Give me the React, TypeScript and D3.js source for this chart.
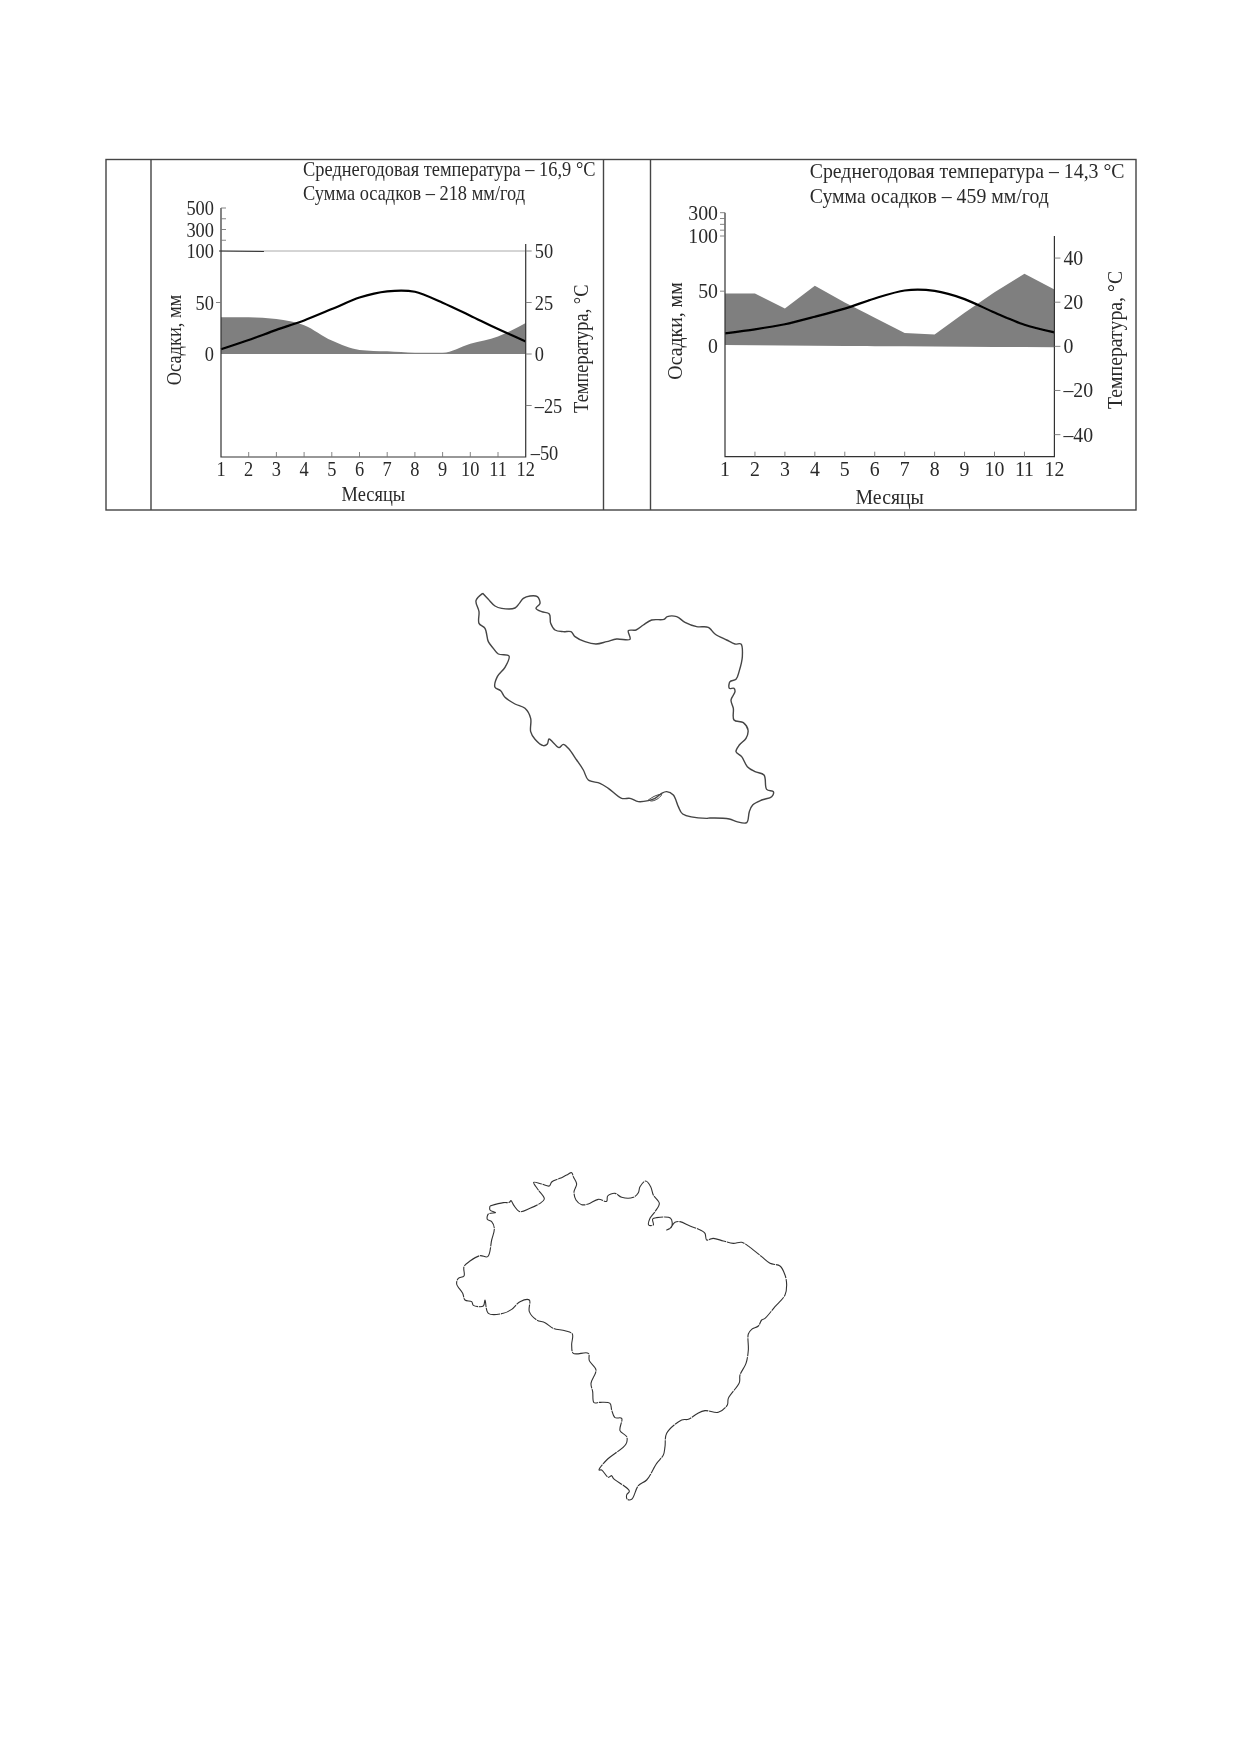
import React, { useEffect, useRef } from 'react';
import * as d3 from 'd3';

const months = [1, 2, 3, 4, 5, 6, 7, 8, 9, 10, 11, 12];

// left climate chart
const precipA = [35.6, 35.6, 34, 28, 13, 4, 2.6, 1.3, 1.3, 10, 17, 30];
const tempA = [2.3, 6.8, 11.7, 16.3, 21.8, 27.4, 30.4, 30.2, 24.9, 18.6, 12.1, 6.1];
const baseA = [0, 0, 0, 0, 0, 0, 0, 0, 0, 0, 0, 0];
const precipLabelsA = [0, 50, 100, 300, 500];
const precipMinorA = [200, 300, 400, 500];
const tempTicksA = [-50, -25, 0, 25, 50];

// right climate chart
const precipB = [47.8, 47.8, 34.3, 55, 39.8, 26, 12, 10.8, 30.5, 49, 65.7, 51.5];
const tempB = [5.9, 7.7, 10, 13.4, 17.1, 21.7, 25.3, 25.1, 21.4, 15.3, 9.8, 6.3];
const baseB = [1.2, 1, 0.8, 0.6, 0.4, 0.2, 0, -0.2, -0.4, -0.5, -0.7, -0.9];
const precipLabelsB = [0, 50, 100, 300];
const precipMinorB = [100, 150, 200, 250, 300];
const tempTicksB = [-40, -20, 0, 20, 40];

const iranOutline = [[68,40],[85,58],[105,78],[125,85],[165,84],[178,70],[190,55],[210,48],[232,50],[240,70],[228,85],[245,95],[268,102],[272,130],[285,150],[310,155],[333,155],[345,170],[375,185],[408,192],[440,185],[470,177],[510,178],[505,152],[528,150],[550,135],[575,120],[612,118],[622,110],[650,110],[675,127],[710,140],[745,142],[765,162],[800,180],[825,192],[843,192],[847,230],[838,272],[828,298],[810,305],[808,325],[822,325],[825,335],[813,360],[820,385],[822,420],[850,428],[864,450],[858,475],[838,495],[828,515],[845,530],[862,560],[885,575],[912,585],[920,628],[940,635],[935,650],[905,660],[878,675],[868,695],[860,728],[830,725],[808,717],[750,714],[740,715],[668,702],[655,680],[640,645],[620,635],[605,640],[585,655],[565,662],[535,665],[510,655],[485,655],[445,625],[420,610],[385,600],[370,570],[350,540],[325,505],[310,493],[297,503],[280,488],[267,477],[262,492],[250,497],[225,478],[212,455],[212,415],[195,385],[165,372],[135,352],[122,332],[105,322],[112,290],[135,262],[147,228],[115,222],[100,205],[85,185],[75,145],[57,130],[57,95],[48,62],[68,40]];
const iranIsland = [[565,660],[585,648],[605,643],[595,655],[575,663],[565,660]];
const brazilNorth = [[150,138],[190,128],[208,127],[213,122],[222,137],[240,155],[270,145],[300,130],[313,117],[295,90],[281,67],[305,72],[328,78],[335,66],[360,55],[380,45],[395,38],[400,50],[410,72],[402,95],[408,120],[425,134],[445,132],[475,118],[500,124],[503,108],[525,100],[545,112],[580,112],[595,98],[600,80],[617,63],[632,80],[640,105],[658,130],[645,155],[630,175],[626,195],[640,195],[638,177],[650,173],[692,175],[695,200],[680,210],[690,205],[705,187],[720,185],[750,198],[785,212],[795,220],[800,240],[820,235],[850,243],[880,250],[905,247],[930,262],[965,290],[990,310],[1020,318],[1035,345],[1040,375],[1035,405],[1005,440],[975,475]];
const brazilSouth = [[785,0],[775,18],[755,28],[745,42],[745,90],[738,130],[720,165],[718,188],[685,235],[682,255],[655,277],[615,272],[590,282],[565,298],[545,300],[500,340],[495,380],[490,405],[470,430],[440,480],[415,497],[395,538],[382,538],[380,525],[388,513],[340,475],[335,467],[325,472],[305,450],[297,450],[320,420],[378,372],[380,350],[360,332],[365,295],[345,293],[335,270],[330,250],[300,247],[282,248],[278,215],[273,190],[288,150],[268,122],[265,100],[220,100],[215,75],[217,42],[195,32],[160,25],[135,8],[110,0]];
const brazilWest = [[268,455],[268,420],[240,425],[215,448],[190,460],[145,460],[135,420],[130,438],[100,436],[95,425],[75,420],[68,400],[50,372],[55,355],[72,348],[72,320],[90,303],[120,287],[143,290],[155,240],[163,205],[155,185],[142,178],[145,162],[167,158],[150,150],[150,138]];

const SERIF = '"Liberation Serif", serif';
const INK = '#2a2a2a';

const drawClimate = (root, c) => {
  const g = root.append('g');
  const x = d3.scaleLinear().domain([1, 12]).range([c.left, c.right]);
  const yT = d3.scaleLinear().domain([-50, 50]).range([c.bottom, c.top50]);
  const yP = d3.scaleLinear().domain([0, 100, c.pMax]).range([yT(0), yT(50), c.top]);

  const area = d3.area()
    .x((d, i) => x(months[i]))
    .y0((d, i) => yP(c.base[i]))
    .y1(d => yP(d))
    .curve(c.areaCurve);
  g.append('path').attr('d', area(c.precip)).attr('fill', '#7f7f7f');

  if (c.rule) {
    g.append('line').attr('x1', x(1)).attr('x2', x(12)).attr('y1', yP(100)).attr('y2', yP(100))
      .attr('stroke', '#aaa').attr('stroke-width', 1);
    g.append('line').attr('x1', x(1) - 2).attr('x2', x(2.55)).attr('y1', yP(100)).attr('y2', yP(100) + 0.5)
      .attr('stroke', '#333').attr('stroke-width', 1.1);
  }

  const line = d3.line().x((d, i) => x(months[i])).y(d => yT(d)).curve(d3.curveCardinal.tension(0.2));
  g.append('path').attr('d', line(c.temp)).attr('fill', 'none').attr('stroke', '#000').attr('stroke-width', 2.2);

  const axes = g.append('g').attr('stroke', '#333').attr('stroke-width', 1.2).attr('fill', 'none');
  axes.append('path').attr('d', `M${c.left},${c.top}V${c.bottom}H${c.right}V${c.top50 - c.overshoot}`);
  const ticks = g.append('g').attr('stroke', '#777').attr('stroke-width', 0.9);
  months.slice(1, 11).forEach(m => {
    ticks.append('line').attr('x1', x(m)).attr('x2', x(m)).attr('y1', c.bottom).attr('y2', c.bottom - 5);
  });
  c.tempTicks.filter(t => t > -50).forEach(t => {
    ticks.append('line').attr('x1', c.right).attr('x2', c.right + 6).attr('y1', yT(t)).attr('y2', yT(t));
  });
  c.precipMinor.forEach(p => {
    ticks.append('line').attr('x1', c.left).attr('x2', c.left + c.tickDir * 5).attr('y1', yP(p)).attr('y2', yP(p));
  });
  ticks.append('line').attr('x1', c.left).attr('x2', c.left - 5).attr('y1', yP(50)).attr('y2', yP(50));

  const text = g.append('g').attr('font-family', SERIF).attr('fill', INK).attr('font-size', 20);
  const label = (px, py, str, anchor = 'start', rotate = false) => {
    const turn = rotate ? ' rotate(-90)' : '';
    text.append('text').attr('transform', `translate(${px},${py})${turn} scale(${c.squeeze},1)`)
      .attr('text-anchor', anchor).text(str);
  };
  months.forEach(m => label(x(m), c.bottom + 19, m, 'middle'));
  c.precipLabels.forEach(p => label(c.left - 7, yP(p) + 7, p, 'end'));
  c.tempTicks.forEach(t => {
    const shown = t < 0 ? `\u2013${Math.abs(t)}` : t;
    if (t === -50) label(c.right + 5, yT(t) + 3, shown);
    else label(c.right + 9, yT(t) + 7, shown);
  });
  label((c.left + c.right) / 2, c.monthsY, 'Месяцы', 'middle');
  label(c.leftTitleX, c.leftTitleY, 'Осадки, мм', 'middle', true);
  label(c.rightTitleX, c.rightTitleY, 'Температура, °С', 'middle', true);
  label(c.headerX, c.header1Y, c.header1);
  label(c.headerX, c.header2Y, c.header2);
};

const App = () => {
  const svgRef = useRef(null);

  useEffect(() => {
    const svg = d3.select(svgRef.current);
    svg.selectAll('*').remove();

    // scanned page look
    svg.append('defs').append('filter').attr('id', 'scan')
      .attr('filterUnits', 'userSpaceOnUse')
      .attr('x', 0).attr('y', 0).attr('width', 1240).attr('height', 1754)
      .append('feGaussianBlur').attr('stdDeviation', 0.45);
    const root = svg.append('g').attr('filter', 'url(#scan)');

    // table frame
    const frame = root.append('g').attr('stroke', '#444').attr('stroke-width', 1.4).attr('fill', 'none');
    frame.append('rect').attr('x', 106).attr('y', 159.5).attr('width', 1030).attr('height', 350.5);
    [151, 603.5, 650.5].forEach(v => {
      frame.append('line').attr('x1', v).attr('x2', v).attr('y1', 159.5).attr('y2', 510);
    });

    drawClimate(root, {
      left: 221, right: 525.7, bottom: 457, top50: 251, top: 208, overshoot: 7, pMax: 500,
      precip: precipA, temp: tempA, base: baseA, areaCurve: d3.curveMonotoneX,
      precipLabels: precipLabelsA, precipMinor: precipMinorA, tempTicks: tempTicksA, tickDir: 1, rule: true,
      squeeze: 0.92, leftTitleX: 181, leftTitleY: 340, rightTitleX: 588, rightTitleY: 348.7, monthsY: 500.7,
      headerX: 303, header1Y: 176, header2Y: 200,
      header1: 'Среднегодовая температура – 16,9 °С', header2: 'Сумма осадков – 218 мм/год',
    });
    drawClimate(root, {
      left: 725, right: 1054.4, bottom: 456.7, top50: 236, top: 212.7, overshoot: 0, pMax: 300,
      precip: precipB, temp: tempB, base: baseB, areaCurve: d3.curveLinear,
      precipLabels: precipLabelsB, precipMinor: precipMinorB, tempTicks: tempTicksB, tickDir: -1, rule: false,
      squeeze: 0.99, leftTitleX: 681.6, leftTitleY: 331, rightTitleX: 1121.6, rightTitleY: 340, monthsY: 504,
      headerX: 809.7, header1Y: 178, header2Y: 203,
      header1: 'Среднегодовая температура – 14,3 °С', header2: 'Сумма осадков – 459 мм/год',
    });

    // maps: crop pixels scaled back to the page
    const fromCrop = (o) => d3.scaleLinear().domain([0, 3]).range([o, o + 1]);
    const outline = (pts, ox, oy, stroke, width, dash) => {
      const sx = fromCrop(ox);
      const sy = fromCrop(oy);
      const path = d3.line().x(d => sx(d[0])).y(d => sy(d[1])).curve(d3.curveCatmullRom);
      root.append('path').attr('d', path(pts)).attr('fill', 'none')
        .attr('stroke', stroke).attr('stroke-width', width).attr('stroke-dasharray', dash || null)
        .attr('stroke-linejoin', 'round');
    };
    outline(iranOutline, 460, 580, '#444', 1.4);
    outline(iranIsland, 460, 580, '#444', 1);
    const brazil = [...brazilNorth, ...brazilSouth.map(d => [d[0] + 180, d[1] + 480]), ...brazilWest];
    outline(brazil, 440, 1160, '#333', 1.1, '18 0.8');
  }, []);

  return (
    <svg ref={svgRef} width={1240} height={1754} viewBox="0 0 1240 1754"
      style={{ position: 'absolute', left: 0, top: 0, background: '#fff', display: 'block' }} />
  );
};

export default App;
